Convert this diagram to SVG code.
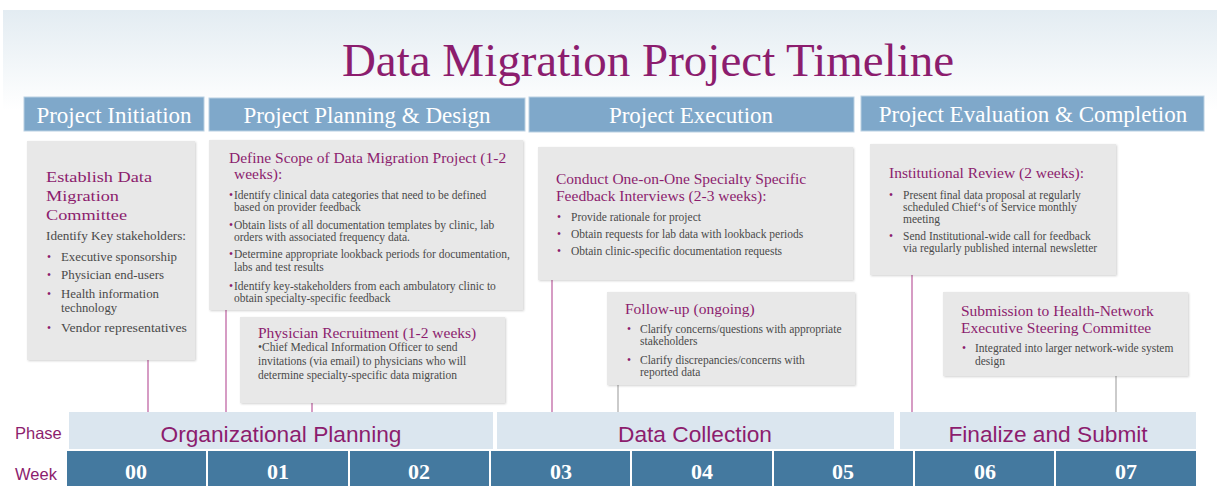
<svg xmlns="http://www.w3.org/2000/svg" width="1217" height="486" viewBox="0 0 1217 486">
<defs>
<linearGradient id="bg" x1="0" y1="0" x2="0" y2="1">
<stop offset="0" stop-color="#e3ecf2"/>
<stop offset="1" stop-color="#ffffff"/>
</linearGradient>
<filter id="sh" x="-5%" y="-5%" width="110%" height="110%">
<feDropShadow dx="1" dy="1" stdDeviation="1" flood-color="#000" flood-opacity="0.18"/>
</filter>
<style>
.hdr{fill:#7fa8ca;stroke:#b9d0e2;stroke-width:1}
.hdrt{font-family:"Liberation Serif","Times New Roman",serif;font-size:23px;fill:#ffffff;text-anchor:middle}
.box{fill:#e8e8e8;filter:url(#sh)}
.ttl{font-family:"Liberation Serif","Times New Roman",serif;font-size:15.5px;fill:#8c1d6e}
.body{font-family:"Liberation Serif","Times New Roman",serif;font-size:11.5px;fill:#4a4a4a}
.bul{fill:#8c1d6e}
.conn{stroke:#c97bb0;stroke-width:1.5}
.conng{stroke:#a8a8a8;stroke-width:1.2}
.phase{fill:#dbe6ef}
.phaset{font-family:"Liberation Sans",Arial,sans-serif;font-size:22.7px;fill:#8c1d6e;text-anchor:middle}
.lbl{font-family:"Liberation Sans",Arial,sans-serif;font-size:16.5px;fill:#8c1d6e}
.wk{fill:#44799f}
.wkt{font-family:"Liberation Serif","Times New Roman",serif;font-size:22px;font-weight:bold;fill:#ffffff;text-anchor:middle}
</style>
</defs>
<rect x="0" y="0" width="1217" height="486" fill="#ffffff"/>
<rect x="3" y="10" width="1214" height="100" fill="url(#bg)"/>
<text x="648" y="76" font-family="'Liberation Serif','Times New Roman',serif" font-size="47" fill="#8c1d6e" text-anchor="middle">Data Migration Project Timeline</text>

<g id="headers">
<g id="h-initiation"><rect class="hdr" x="24" y="97" width="180" height="34"/><text class="hdrt" x="114" y="123">Project Initiation</text></g>
<g id="h-planning"><rect class="hdr" x="209" y="98" width="316" height="33"/><text class="hdrt" x="367" y="123">Project Planning &amp; Design</text></g>
<g id="h-execution"><rect class="hdr" x="529" y="97" width="325" height="35"/><text class="hdrt" x="691" y="123">Project Execution</text></g>
<g id="h-evaluation"><rect class="hdr" x="861" y="96" width="343" height="35"/><text class="hdrt" x="1033" y="122">Project Evaluation &amp; Completion</text></g>
</g>

<g id="connectors">
<line class="conn" x1="148" y1="360" x2="148" y2="412"/>
<line class="conn" x1="226" y1="310" x2="226" y2="412"/>
<line class="conn" x1="312" y1="403" x2="312" y2="412"/>
<line class="conn" x1="552" y1="280" x2="552" y2="412"/>
<line class="conng" x1="618" y1="385" x2="618" y2="412"/>
<line class="conn" x1="912" y1="275" x2="912" y2="412"/>
<line class="conng" x1="1116" y1="376" x2="1116" y2="412"/>
</g>

<g id="box-establish">
<rect class="box" x="27" y="141" width="168" height="219"/>
<text class="ttl" font-size="19" x="46" y="182" textLength="106" lengthAdjust="spacingAndGlyphs">Establish Data</text>
<text class="ttl" font-size="19" x="46" y="201" textLength="73" lengthAdjust="spacingAndGlyphs">Migration</text>
<text class="ttl" font-size="19" x="46" y="220" textLength="81" lengthAdjust="spacingAndGlyphs">Committee</text>
<text class="body" font-size="14" x="46" y="240" textLength="140" lengthAdjust="spacingAndGlyphs">Identify Key stakeholders:</text>
<g class="body" font-size="14">
<text class="bul" x="47" y="261">•</text><text x="61" y="261" textLength="116" lengthAdjust="spacingAndGlyphs">Executive sponsorship</text>
<text class="bul" x="47" y="279">•</text><text x="61" y="279" textLength="103" lengthAdjust="spacingAndGlyphs">Physician end-users</text>
<text class="bul" x="47" y="298">•</text><text x="61" y="298" textLength="98" lengthAdjust="spacingAndGlyphs">Health information</text>
<text x="61" y="312" textLength="56" lengthAdjust="spacingAndGlyphs">technology</text>
<text class="bul" x="47" y="332">•</text><text x="61" y="332" textLength="126" lengthAdjust="spacingAndGlyphs">Vendor representatives</text>
</g>
</g>

<g id="box-scope">
<rect class="box" x="209" y="140" width="314" height="170"/>
<text class="ttl" x="229" y="163">Define Scope of Data Migration Project (1-2</text>
<text class="ttl" x="234" y="179">weeks):</text>
<g class="body" font-size="11.2">
<text class="bul" x="229" y="199">•</text><text x="234" y="199">Identify clinical data categories that need to be defined</text>
<text x="234" y="211">based on provider feedback</text>
<text class="bul" x="229" y="229">•</text><text x="234" y="229">Obtain lists of all documentation templates by clinic, lab</text>
<text x="234" y="241">orders with associated frequency data.</text>
<text class="bul" x="229" y="258">•</text><text x="234" y="258">Determine appropriate lookback periods for documentation,</text>
<text x="234" y="271">labs and test results</text>
<text class="bul" x="229" y="290">•</text><text x="234" y="290">Identify key-stakeholders from each ambulatory clinic to</text>
<text x="234" y="302">obtain specialty-specific feedback</text>
</g>
</g>

<g id="box-recruit">
<rect class="box" x="240" y="317" width="265" height="86"/>
<text class="ttl" x="258" y="338">Physician Recruitment (1-2 weeks)</text>
<g class="body">
<text x="258" y="351">•Chief Medical Information Officer to send</text>
<text x="258" y="365">invitations (via email) to physicians who will</text>
<text x="258" y="379">determine specialty-specific data migration</text>
</g>
</g>

<g id="box-interviews">
<rect class="box" x="538" y="147" width="315" height="133"/>
<text class="ttl" x="556" y="184">Conduct One-on-One Specialty Specific</text>
<text class="ttl" x="556" y="201">Feedback Interviews (2-3 weeks):</text>
<g class="body">
<text class="bul" x="557" y="221">•</text><text x="571" y="221">Provide rationale for project</text>
<text class="bul" x="557" y="238">•</text><text x="571" y="238">Obtain requests for lab data with lookback periods</text>
<text class="bul" x="557" y="255">•</text><text x="571" y="255">Obtain clinic-specific documentation requests</text>
</g>
</g>

<g id="box-followup">
<rect class="box" x="607" y="292" width="248" height="93"/>
<text class="ttl" x="625" y="314">Follow-up (ongoing)</text>
<g class="body">
<text class="bul" x="627" y="333">•</text><text x="640" y="333">Clarify concerns/questions with appropriate</text>
<text x="640" y="345">stakeholders</text>
<text class="bul" x="627" y="364">•</text><text x="640" y="364">Clarify discrepancies/concerns with</text>
<text x="640" y="376">reported data</text>
</g>
</g>

<g id="box-review">
<rect class="box" x="870" y="144" width="246" height="131"/>
<text class="ttl" x="889" y="178">Institutional Review (2 weeks):</text>
<g class="body">
<text class="bul" x="889" y="199">•</text><text x="903" y="199">Present final data proposal at regularly</text>
<text x="903" y="211">scheduled Chief‘s of Service monthly</text>
<text x="903" y="223">meeting</text>
<text class="bul" x="889" y="240">•</text><text x="903" y="240">Send Institutional-wide call for feedback</text>
<text x="903" y="252">via regularly published internal newsletter</text>
</g>
</g>

<g id="box-submission">
<rect class="box" x="943" y="292" width="245" height="84"/>
<text class="ttl" x="961" y="316">Submission to Health-Network</text>
<text class="ttl" x="961" y="333">Executive Steering Committee</text>
<g class="body">
<text class="bul" x="962" y="352">•</text><text x="975" y="352">Integrated into larger network-wide system</text>
<text x="975" y="365">design</text>
</g>
</g>

<g id="phase-row">
<text class="lbl" x="15" y="439">Phase</text>
<g id="phase-org"><rect class="phase" x="69" y="412" width="424" height="37"/><text class="phaset" x="281" y="442">Organizational Planning</text></g>
<g id="phase-data"><rect class="phase" x="497" y="412" width="397" height="37"/><text class="phaset" x="695" y="442">Data Collection</text></g>
<g id="phase-final"><rect class="phase" x="900" y="412" width="296" height="37"/><text class="phaset" x="1048" y="442">Finalize and Submit</text></g>
</g>

<g id="week-row">
<text class="lbl" x="15" y="480">Week</text>
<rect class="wk" x="67" y="451" width="139" height="35"/><text class="wkt" x="136" y="479">00</text>
<rect class="wk" x="208" y="451" width="140" height="35"/><text class="wkt" x="278" y="479">01</text>
<rect class="wk" x="350" y="451" width="139" height="35"/><text class="wkt" x="419" y="479">02</text>
<rect class="wk" x="491" y="451" width="139" height="35"/><text class="wkt" x="561" y="479">03</text>
<rect class="wk" x="632" y="451" width="140" height="35"/><text class="wkt" x="702" y="479">04</text>
<rect class="wk" x="774" y="451" width="139" height="35"/><text class="wkt" x="843" y="479">05</text>
<rect class="wk" x="915" y="451" width="139" height="35"/><text class="wkt" x="985" y="479">06</text>
<rect class="wk" x="1056" y="451" width="140" height="35"/><text class="wkt" x="1126" y="479">07</text>
</g>
</svg>
